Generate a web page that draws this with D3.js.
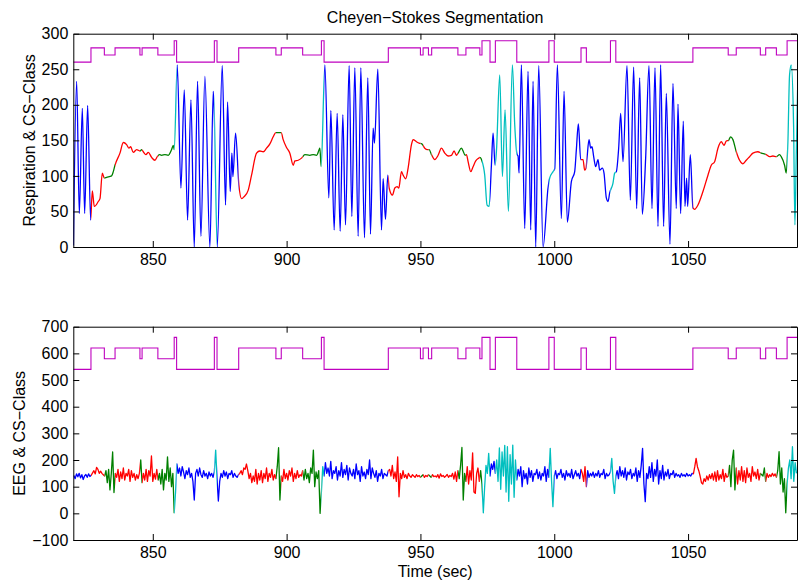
<!DOCTYPE html>
<html><head><meta charset="utf-8">
<script src="https://cdn.jsdelivr.net/npm/d3@7"></script>
<style>
body{margin:0;background:#fff}
svg{display:block}
text{font-family:"Liberation Sans",Arial,Helvetica,sans-serif;fill:#000}
</style>
</head><body>
<svg id="chart" width="798" height="583"></svg>
<script>
// ---------------- data ----------------
const titleText = "Cheyen\u2212Stokes Segmentation";
const xLabelText = "Time (sec)";
const topYLabel = "Respiration & CS\u2212Class";
const bottomYLabel = "EEG & CS\u2212Class";

const xDomain = [820.3, 1090.7];
const xTicks = [850, 900, 950, 1000, 1050];
const topYTicks = [0, 50, 100, 150, 200, 250, 300];
const bottomYTicks = [-100, 0, 100, 200, 300, 400, 500, 600, 700];

// CS-class segmentation: start time of each segment and class id (0..3)
const classStarts = [820.3,826.9,831.9,835.9,845.2,846.0,851.9,858.0,858.9,873.0,
  874.0,882.1,896.0,898.0,906.0,913.0,914.0,938.0,950.0,951.0,
  953.0,954.2,964.0,967.0,972.2,973.0,976.0,978.0,986.0,998.0,
  1000.0,1010.0,1012.0,1021.0,1023.0,1051.8,1065.0,1068.0,1077.0,1079.0,
  1083.0,1087.0];
const classIds = [0,2,1,2,1,2,1,3,0,3,
  0,2,1,2,1,3,0,2,1,2,
  1,2,1,2,1,3,0,3,0,3,
  0,2,0,3,0,2,1,2,1,2,
  1,3];
const topClassLevels = [260, 270, 280, 290];
const bottomClassLevels = [540, 580, 620, 660];
const classColors = ["#0000ff", "#008000", "#ff0000", "#00bfbf"];
const classLineColor = "#bf00bf";

// Respiration signal (time, value)
const respTime = [
 820.35,821.55,822.55,823.67,824.54,825.66,826.78,827.40,828.15,829.64,
 830.27,831.14,831.88,832.76,834.62,835.25,835.87,837.73,838.98,840.22,
 841.10,841.72,842.71,843.96,845.20,845.83,846.45,847.44,848.31,849.56,
 850.80,851.67,852.42,853.29,854.54,855.78,857.03,857.65,858.02,859.14,
 860.51,861.76,863.00,864.25,865.49,866.73,867.98,869.47,871.34,872.59,
 872.96,874.08,875.95,877.19,877.94,878.93,879.56,879.93,880.93,882.17,
 883.17,884.16,885.66,886.90,888.77,890.01,891.26,892.50,893.75,894.99,
 895.99,897.98,898.72,899.97,901.21,902.46,903.08,904.33,905.57,906.82,
 908.68,909.93,911.17,912.17,912.42,912.92,914.29,915.78,916.53,917.77,
 918.89,920.01,921.01,922.00,923.37,924.37,925.49,926.73,927.73,929.10,
 930.34,931.34,932.33,932.83,934.08,935.45,936.07,936.94,937.81,938.31,
 939.55,940.42,941.30,941.92,942.91,943.54,944.53,945.40,946.65,947.27,
 948.51,949.51,950.51,951.63,952.62,953.25,954.12,955.36,956.61,957.85,
 959.10,960.34,961.58,962.58,963.45,964.07,965.32,965.94,966.69,967.19,
 967.81,968.80,969.67,970.67,971.79,972.16,972.91,974.03,974.90,975.65,
 976.52,977.14,977.89,978.39,979.63,980.63,981.62,982.87,984.36,985.23,
 986.10,986.48,986.85,987.72,988.97,990.21,991.21,992.08,993.08,994.20,
 995.82,997.68,998.30,999.55,1000.17,1001.17,1002.66,1003.66,1004.90,1006.39,
 1007.64,1008.26,1009.01,1009.88,1010.75,1011.37,1011.87,1012.24,1012.99,1013.61,
 1014.11,1014.73,1015.48,1016.35,1016.97,1017.97,1018.59,1019.46,1020.09,1020.71,
 1021.95,1022.58,1023.20,1024.07,1024.82,1025.69,1027.18,1028.43,1029.67,1030.79,
 1031.91,1032.91,1034.15,1035.40,1036.52,1037.64,1038.76,1039.75,1040.87,1041.87,
 1043.24,1044.36,1045.60,1046.23,1047.22,1048.22,1048.84,1049.46,1049.84,1050.83,
 1051.83,1052.45,1053.69,1055.56,1057.43,1058.67,1059.92,1061.16,1062.41,1063.40,
 1064.28,1065.14,1065.89,1066.76,1068.01,1069.25,1070.50,1071.74,1072.99,1074.23,
 1076.10,1077.34,1079.21,1080.45,1081.70,1082.94,1084.19,1084.81,1086.06,1086.68,
 1087.30,1087.92,1088.55,1089.42,1089.92,1090.41,1090.91];
const respValue = [
 2,233,47,195,47,199,38,79,57,64,
 68,104,97,98,100,106,115,132,147,144,
 139,141,133,137,135,137,134,130,133,126,
 122,127,130,129,130,129,137,143,137,256,
 83,221,38,207,0,233,15,240,0,219,
 188,0,255,59,204,78,132,99,160,87,
 68,71,80,101,132,135,134,139,145,155,
 161,161,151,140,132,115,121,122,125,130,
 129,130,129,137,139,113,256,69,192,24,
 188,22,186,31,255,43,252,15,252,13,
 238,18,167,146,250,24,96,39,101,83,
 73,83,85,83,106,101,96,111,144,151,
 148,146,145,139,137,137,130,123,129,139,
 132,128,129,135,129,132,139,135,129,130,
 120,106,113,121,125,126,122,101,59,57,
 115,160,115,134,242,99,193,50,256,172,
 130,128,104,256,26,247,24,233,0,255,
 0,83,97,106,110,256,40,219,35,92,
 106,137,173,123,123,108,111,125,151,139,
 141,127,113,123,108,111,104,69,64,76,
 90,104,106,139,188,120,255,66,253,54,
 238,46,125,255,54,252,29,256,29,216,
 4,230,54,201,47,177,57,97,57,130,
 55,53,59,78,101,115,120,139,148,143,
 149,150,155,151,134,122,117,122,127,132,
 134,132,130,127,128,127,130,127,115,104,
 148,242,256,172,31,125,221];

// EEG signal: rows of 10 samples, 0.5 s apart, each row covering 5 s
const eegStart = 820.5;
const eegStep = 0.5;
const eegRows = [
 [142,130,148,137,150,133,145,127,140,146],
 [135,148,138,143,152,160,148,172,165,150],
 [158,150,145,140,160,115,165,88,150,230],
 [78,150,135,165,120,155,130,170,125,150],
 [140,165,120,160,135,150,125,145,130,150],
 [200,115,150,125,165,120,160,140,215,120],
 [150,128,165,125,150,110,165,88,150,125],
 [212,120,170,100,150,2,80,185,150,170],
 [140,175,155,130,160,145,170,135,150,120],
 [50,150,165,140,170,145,135,160,140,150],
 [130,155,140,150,135,155,237,130,46,120],
 [150,135,160,140,155,130,150,145,160,135],
 [150,140,135,145,150,160,145,170,165,185],
 [160,130,150,115,140,120,165,110,150,125],
 [160,115,150,130,170,120,150,135,165,125],
 [145,130,175,246,50,140,120,165,130,150],
 [125,160,140,170,120,150,130,160,135,145],
 [140,160,125,165,130,150,115,170,150,237],
 [100,155,130,160,0,80,175,140,190,150],
 [170,140,195,130,160,150,175,125,160,140],
 [190,135,165,145,180,125,170,150,140,165],
 [130,185,145,160,120,175,140,155,130,165],
 [145,200,130,170,150,135,160,120,150,140],
 [165,130,150,145,140,160,165,140,180,130],
 [155,120,212,62,150,130,160,135,145,130],
 [150,140,135,145,140,135,145,138,142,135],
 [140,145,135,142,138,145,140,135,145,138],
 [140,136,145,132,148,138,142,135,140,146],
 [135,142,138,150,128,155,120,160,130,180],
 [247,50,150,120,175,110,160,125,227,80],
 [75,150,170,120,160,110,2,100,180,150],
 [225,140,185,165,195,150,200,120,245,90],
 [230,140,255,80,250,45,220,110,256,60],
 [200,125,165,140,175,100,160,130,150,110],
 [170,135,160,120,150,145,165,130,155,125],
 [150,140,175,120,165,135,244,120,25,140],
 [160,130,150,145,165,135,150,125,160,140],
 [150,135,165,130,145,160,140,150,130,165],
 [150,120,175,100,160,135,150,140,155,135],
 [150,140,160,135,150,145,165,130,150,140],
 [145,155,206,120,75,140,160,130,175,140],
 [160,135,170,125,155,145,165,130,150,140],
 [170,120,160,135,180,244,110,44,150,130],
 [175,135,190,120,165,140,200,110,160,130],
 [180,125,155,140,165,130,150,145,160,135],
 [150,140,145,135,150,140,145,138,150,140],
 [145,140,150,148,175,206,175,160,140,115],
 [110,130,120,140,125,145,130,150,125,155],
 [120,160,125,145,130,165,120,150,135,140],
 [180,100,200,237,88,170,110,160,125,175],
 [120,160,115,170,135,150,120,175,140,155],
 [130,165,125,150,145,140,170,120,150,135],
 [145,138,150,140,148,135,160,231,110,170],
 [80,130,2,110,170,200,130,250,120,190],
 [150]
];

// ---------------- drawing ----------------
const svg = d3.select("#chart");
const left = 73.3, right = 797;
const x = d3.scaleLinear().domain(xDomain).range([left, right]);

const respData = respTime.map((t, i) => [t, respValue[i]]);
const eegData = [];
eegRows.forEach((row, r) => row.forEach((v, j) => eegData.push([eegStart + r * 5 + j * eegStep, v])));

const segments = classStarts.map((s, i) => ({
  start: s,
  end: i + 1 < classStarts.length ? classStarts[i + 1] : xDomain[1],
  cls: classIds[i]
}));

const panels = [
  { id: "top", top: 33.7, bottom: 247, domain: [0, 300], ticks: topYTicks,
    levels: topClassLevels, data: respData, curve: d3.curveMonotoneX,
    label: topYLabel, labelX: 34.5 },
  { id: "bot", top: 326.7, bottom: 540, domain: [-100, 700], ticks: bottomYTicks,
    levels: bottomClassLevels, data: eegData, curve: d3.curveLinear,
    label: bottomYLabel, labelX: 25 }
];

const defs = svg.append("defs");
const fontSize = 16;

panels.forEach(p => {
  const y = d3.scaleLinear().domain(p.domain).range([p.bottom, p.top]);
  const g = svg.append("g");

  // clip paths per class
  classColors.forEach((c, ci) => {
    const cp = defs.append("clipPath").attr("id", `clip-${p.id}-${ci}`);
    segments.filter(s => s.cls === ci).forEach(s => {
      cp.append("rect")
        .attr("x", x(s.start)).attr("width", x(s.end) - x(s.start))
        .attr("y", p.top).attr("height", p.bottom - p.top);
    });
  });
  defs.append("clipPath").attr("id", `clip-${p.id}-all`).append("rect")
    .attr("x", left).attr("y", p.top).attr("width", right - left).attr("height", p.bottom - p.top);

  // class step line
  const stepPts = segments.map(s => [s.start, p.levels[s.cls]]);
  stepPts.push([xDomain[1], p.levels[segments[segments.length - 1].cls]]);
  g.append("path")
    .attr("d", d3.line().x(d => x(d[0])).y(d => y(d[1])).curve(d3.curveStepAfter)(stepPts))
    .attr("fill", "none").attr("stroke", classLineColor).attr("stroke-width", 1.1)
    .attr("clip-path", `url(#clip-${p.id}-all)`);

  // signal, coloured by class
  const line = d3.line().x(d => x(d[0])).y(d => y(d[1])).curve(p.curve);
  const dStr = line(p.data);
  classColors.forEach((c, ci) => {
    g.append("path").attr("d", dStr)
      .attr("fill", "none").attr("stroke", c).attr("stroke-width", 1.3)
      .attr("stroke-linejoin", "round")
      .attr("clip-path", `url(#clip-${p.id}-${ci})`);
  });

  // axes
  const tk = 6;
  const axB = g.append("g").attr("transform", `translate(0,${p.bottom})`)
    .call(d3.axisBottom(x).tickValues(xTicks).tickSizeInner(-tk).tickSizeOuter(0).tickPadding(7).tickFormat(d3.format("d")));
  const axT = g.append("g").attr("transform", `translate(0,${p.top})`)
    .call(d3.axisTop(x).tickValues(xTicks).tickSizeInner(-tk).tickSizeOuter(0).tickFormat(""));
  const axL = g.append("g").attr("transform", `translate(${left},0)`)
    .call(d3.axisLeft(y).tickValues(p.ticks).tickSizeInner(-tk).tickSizeOuter(0).tickPadding(5).tickFormat(d3.format("d")));
  const axR = g.append("g").attr("transform", `translate(${right},0)`)
    .call(d3.axisRight(y).tickValues(p.ticks).tickSizeInner(-tk).tickSizeOuter(0).tickFormat(""));
  [axB, axT, axL, axR].forEach(a => {
    a.selectAll("path.domain").attr("stroke", "#000").attr("stroke-width", 1);
    a.selectAll("line").attr("stroke", "#000").attr("stroke-width", 1);
    a.selectAll("text").attr("font-size", fontSize).attr("font-family", '"Liberation Sans",Arial,sans-serif').attr("fill", "#000");
  });

  // y label
  svg.append("text")
    .attr("transform", `translate(${p.labelX},${(p.top + p.bottom) / 2}) rotate(-90)`)
    .attr("text-anchor", "middle").attr("font-size", fontSize)
    .text(p.label);
});

// title and x label
svg.append("text").attr("x", (left + right) / 2).attr("y", 23)
  .attr("text-anchor", "middle").attr("font-size", fontSize).text(titleText);
svg.append("text").attr("x", (left + right) / 2).attr("y", 577)
  .attr("text-anchor", "middle").attr("font-size", fontSize).text(xLabelText);
</script>
</body></html>
